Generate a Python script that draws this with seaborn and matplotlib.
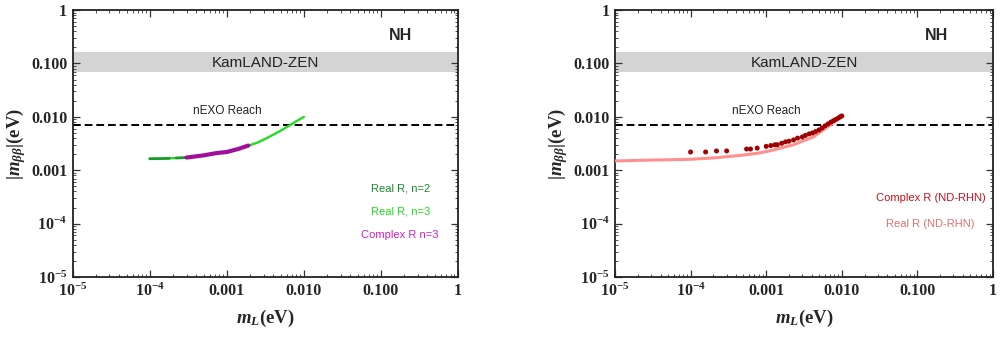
import matplotlib
matplotlib.use("Agg")
import matplotlib.pyplot as plt
import seaborn as sns
import pandas as pd

# lightest neutrino mass vs effective Majorana mass (NH)
green_x = [1e-4, 2e-4, 3e-4, 5e-4, 7.4e-4, 1e-3, 1.4e-3, 1.8e-3, 2.5e-3, 3.3e-3,
           4.2e-3, 5.2e-3, 6.6e-3, 8e-3, 1e-2]
green_y = [0.00164, 0.00168, 0.00173, 0.0019, 0.0021, 0.0022, 0.0025, 0.0028, 0.0033,
           0.0040, 0.0048, 0.0057, 0.0070, 0.0083, 0.0100]

dkgreen_x = [1e-4, 1.3e-4, 1.8e-4]
dkgreen_y = [0.00164, 0.00165, 0.00167]
dkgreen2_x = [2.2e-4, 2.6e-4, 3e-4]
dkgreen2_y = [0.0017, 0.00171, 0.00173]

magenta_x = [3e-4, 5e-4, 7.4e-4, 1e-3, 1.4e-3, 1.9e-3]
magenta_y = [0.00173, 0.0019, 0.0021, 0.0022, 0.0025, 0.0029]

pink_x = [1e-5, 1.2e-5, 3e-5, 9.4e-5, 2e-4, 4.6e-4, 8e-4, 1.26e-3, 1.7e-3, 2.3e-3,
          3e-3, 4.2e-3, 5e-3, 6.2e-3, 7.5e-3, 9.2e-3, 1e-2]
pink_y = [0.0015, 0.0015, 0.00155, 0.0016, 0.0017, 0.0019, 0.0021, 0.0024, 0.0027,
          0.0030, 0.0035, 0.0042, 0.0050, 0.0062, 0.0075, 0.0095, 0.0101]

red_x = [1e-4, 1.58e-4, 2.2e-4, 3e-4, 5.5e-4, 6.2e-4, 7.6e-4, 1.0e-3, 1.15e-3,
         1.3e-3, 1.4e-3, 1.6e-3, 1.8e-3, 2.0e-3, 2.3e-3, 2.6e-3, 3.0e-3, 3.3e-3,
         3.7e-3, 4.1e-3, 4.5e-3, 5.0e-3, 5.5e-3, 6.0e-3, 6.6e-3, 7.2e-3, 7.8e-3,
         8.4e-3, 9.0e-3, 9.5e-3, 1.0e-2]
red_y = [0.0022, 0.0022, 0.0023, 0.0023, 0.0025, 0.0025, 0.0026, 0.0028, 0.0029,
         0.0030, 0.0030, 0.0032, 0.0034, 0.0035, 0.0037, 0.0040, 0.0042, 0.0045,
         0.0048, 0.0050, 0.0053, 0.0057, 0.0062, 0.0068, 0.0074, 0.0080, 0.0085,
         0.0090, 0.0095, 0.0100, 0.0104]

kamland = (0.07, 0.165)
nexo = 0.007

x_ticks = [1e-5, 1e-4, 1e-3, 1e-2, 1e-1, 1]
x_labels = [r"$\mathbf{10^{-5}}$", r"$\mathbf{10^{-4}}$", "0.001", "0.010", "0.100", "1"]
y_ticks = [1e-5, 1e-4, 1e-3, 1e-2, 1e-1, 1]
y_labels = [r"$\mathbf{10^{-5}}$", r"$\mathbf{10^{-4}}$", "0.001", "0.010", "0.100", "1"]

sns.set_style("ticks", {"xtick.direction": "in", "ytick.direction": "in",
                        "axes.edgecolor": "#222222"})
plt.rcParams["font.family"] = ["Liberation Sans", "DejaVu Sans"]
plt.rcParams["mathtext.fontset"] = "custom"
plt.rcParams["mathtext.rm"] = "Liberation Serif:bold"
plt.rcParams["mathtext.bf"] = "Liberation Serif:bold"
plt.rcParams["mathtext.it"] = "Liberation Serif:italic:bold"

fig = plt.figure(figsize=(10, 3.37), dpi=100)
ax1 = fig.add_axes([0.0727, 0.178, 0.3853, 0.792])
ax2 = fig.add_axes([0.615, 0.178, 0.378, 0.792])


def frame(ax):
    ax.set_xscale("log")
    ax.set_yscale("log")
    ax.set_xlim(1e-5, 1)
    ax.set_ylim(1e-5, 1)
    ax.axhspan(kamland[0], kamland[1], color="#d4d4d4", lw=0, zorder=0)
    ax.axhline(nexo, color="black", ls=(0, (4, 2)), lw=1.4, zorder=1)
    ax.text(3.2e-3, 0.1, "KamLAND-ZEN", ha="center", va="center", fontsize=11, color="#222222")
    ax.text(1e-3, 0.013, "nEXO Reach", ha="center", va="center", fontsize=8.5, color="#222222")
    ax.text(0.178, 0.33, "NH", ha="center", va="center", fontsize=11.5, fontweight="bold")
    ax.set_xticks(x_ticks)
    ax.set_xticklabels(x_labels, fontfamily="Liberation Serif", fontweight="bold", fontsize=11.5)
    ax.set_yticks(y_ticks)
    ax.set_yticklabels(y_labels, fontfamily="Liberation Serif", fontweight="bold", fontsize=11.5)
    ax.tick_params(which="both", top=True, right=True, direction="in", color="#333333")
    ax.tick_params(which="major", length=5, width=0.9, pad=4)
    ax.tick_params(which="minor", length=2.5, width=0.6)
    for s in ax.spines.values():
        s.set_linewidth(1.3)


frame(ax1)
frame(ax2)

# left panel
sns.lineplot(data=pd.DataFrame({"x": green_x, "y": green_y}), x="x", y="y",
             ax=ax1, color="#22dd22", lw=1.7, zorder=3)
sns.lineplot(data=pd.DataFrame({"x": dkgreen_x, "y": dkgreen_y}), x="x", y="y",
             ax=ax1, color="#1a9a2a", lw=1.9, zorder=4)
sns.lineplot(data=pd.DataFrame({"x": dkgreen2_x, "y": dkgreen2_y}), x="x", y="y",
             ax=ax1, color="#1a9a2a", lw=1.9, zorder=4)
sns.lineplot(data=pd.DataFrame({"x": magenta_x, "y": magenta_y}), x="x", y="y",
             ax=ax1, color="#a0109a", lw=3.0, zorder=5)
ax1.text(0.178, 4.5e-4, "Real R, n=2", ha="center", va="center", fontsize=8, color="#1a8a2a")
ax1.text(0.178, 1.7e-4, "Real R, n=3", ha="center", va="center", fontsize=8, color="#22dd22")
ax1.text(0.178, 6.1e-5, "Complex R n=3", ha="center", va="center", fontsize=8, color="#d020c0")

# right panel
sns.lineplot(data=pd.DataFrame({"x": pink_x, "y": pink_y}), x="x", y="y",
             ax=ax2, color="#ff9090", lw=2.2, zorder=3)
sns.scatterplot(data=pd.DataFrame({"x": red_x, "y": red_y}), x="x", y="y",
                ax=ax2, color="#a00000", s=13, edgecolor="none", zorder=4)
ax2.text(0.15, 3.0e-4, "Complex R (ND-RHN)", ha="center", va="center", fontsize=8, color="#c8101a")
ax2.text(0.15, 1.0e-4, "Real R (ND-RHN)", ha="center", va="center", fontsize=8, color="#e07070")

for ax in (ax1, ax2):
    ax.set_xlabel(r"$m_L\mathbf{(eV)}$", fontsize=13.5, labelpad=6)
    ax.set_ylabel(r"$|m_{\beta\beta}|\mathbf{(eV)}$", fontsize=13.5, labelpad=2)

fig.savefig("out.png", dpi=100)
